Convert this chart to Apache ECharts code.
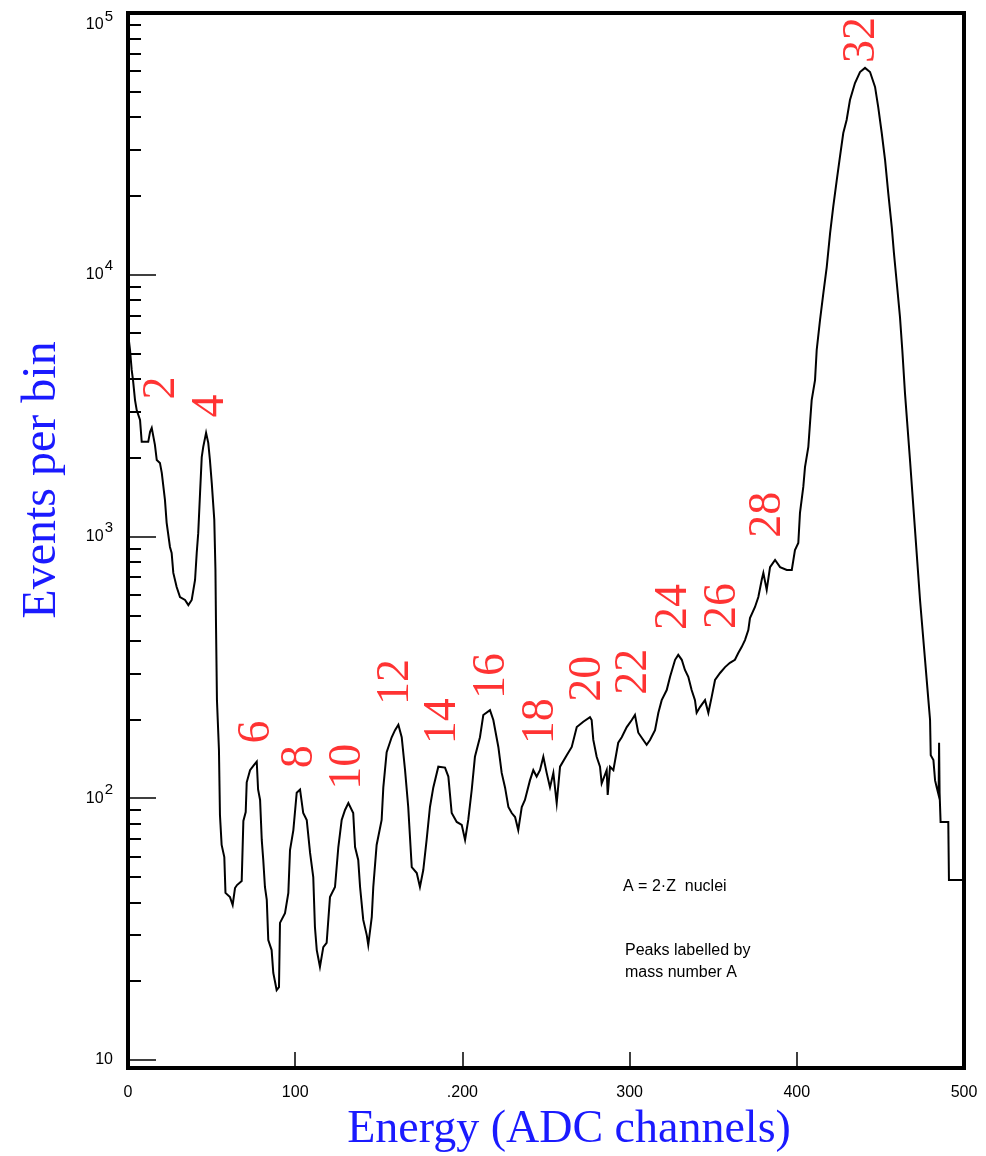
<!DOCTYPE html>
<html>
<head>
<meta charset="utf-8">
<title>Events per bin vs energy</title>
<script src="https://cdn.jsdelivr.net/npm/echarts@6/dist/echarts.min.js"></script>
<style>
  html, body { margin: 0; padding: 0; background: #ffffff; }
  #chart { width: 986px; height: 1156px; }
</style>
</head>
<body>
<div id="chart"></div>
<script>
// Energy spectrum: ADC channel vs events per bin
const channel = [
  0, 1.2, 2.2, 3.0, 4.2, 5.2, 7.2, 8.2, 12.1, 13.2, 14.2, 15.1, 16.1, 17.2, 19.1, 20.2,
  22.1, 23.1, 25.1, 26.1, 27.1, 29.1, 31.1, 34.1, 36.1, 38.1, 40.1, 41.1, 42.0, 43.1, 44.1,
  45.0, 46.7, 48.0, 49.0, 50.1, 51.6, 52.3, 52.6, 53.2, 54.4, 55.0, 56.0, 57.6, 58.3, 61.0,
  62.6, 64.0, 65.2, 68.0, 69.0, 70.4, 71.0, 73.0, 75.4, 77.0, 77.8, 79.0, 80.0, 80.9, 81.9,
  83.0, 83.9, 85.9, 86.9, 88.9, 90.3, 90.9, 93.9, 95.9, 96.9, 98.9, 100.9, 102.9, 103.9,
  104.8, 106.9, 108.9, 110.8, 111.8, 112.9, 114.8, 116.8, 118.8, 120.8, 123.8, 125.8, 127.8,
  129.8, 131.8, 134.7, 135.8, 137.7, 138.8, 140.7, 142.8, 143.7, 145.8, 146.7, 148.7, 151.7,
  152.7, 154.7, 157.7, 159.7, 161.7, 163.7, 165.7, 167.6, 169.7, 172.7, 174.6, 176.6, 178.6,
  180.6, 182.6, 185.6, 189.6, 191.6, 193.6, 196.6, 199.6, 201.6, 203.5, 205.6, 207.5, 210.5,
  212.5, 216.5, 218.5, 221.5, 223.5, 225.5, 227.5, 229.5, 231.5, 233.4, 235.5, 237.4, 240.4,
  242.4, 244.4, 246.4, 248.4, 250.4, 252.4, 254.4, 256.4, 258.4, 262.4, 265.4, 268.4, 272.3,
  276.3, 277.3, 278.3, 280.3, 282.3, 283.3, 286.3, 286.9, 288.3, 290.3, 293.2, 295.3, 298.3,
  301.3, 303.2, 305.2, 308.2, 310.2, 312.2, 315.2, 317.2, 319.2, 322.2, 324.2, 327.2, 329.1,
  331.2, 333.1, 335.1, 337.1, 339.1, 340.1, 342.1, 345.1, 347.1, 349.1, 351.1, 354.1, 357.1,
  360.0, 363.0, 365.0, 367.0, 369.0, 371.0, 372.0, 375.0, 377.0, 379.0, 380.0, 382.0, 384.0,
  387.0, 390.0, 394.0, 397.0, 398.9, 400.9, 401.9, 403.9, 404.9, 406.9, 407.9, 408.9, 410.9,
  411.9, 413.9, 415.9, 417.9, 419.9, 421.8, 423.9, 425.8, 427.8, 429.8, 431.8, 434.8, 437.8,
  440.8, 443.8, 446.8, 448.7, 450.8, 452.8, 454.7, 456.8, 458.1, 459.8, 461.7, 463.1, 464.7,
  467.7, 470.7, 473.7, 476.7, 478.7, 479.7, 480.1, 481.7, 482.7, 483.7, 484.8, 485.1, 485.4,
  486.0, 490.6, 491.0, 500
];
const counts = [
  6000, 5160, 4330, 3960, 3320, 3040, 2790, 2300, 2300, 2510, 2600, 2570, 2240, 1960, 1910, 1750,
  1380, 1130, 912, 865, 726, 641, 587, 572, 547, 572, 682, 865, 1030, 1470, 2010,
  2200, 2490, 2280, 1960, 1600, 1160, 745, 480, 237, 153, 86.3, 66.3, 59.6, 43.5, 41.9,
  39.1, 45.4, 46.6, 48.3, 81.9, 88.6, 115, 128, 134, 138, 108, 98.5, 69.3, 58.1, 45.8,
  40.9, 28.7, 26.3, 21.5, 18.5, 19.0, 33.4, 36.4, 43.5, 63.4, 75.6, 105, 108, 109,
  87.8, 82.6, 61.8, 50.0, 32.2, 26.3, 22.7, 27.0, 28.0, 41.9, 45.8, 65.1, 82.6,
  90.2, 95.9, 87.8, 65.1, 58.1, 45.8, 34.3, 30.0, 27.5, 35.2, 45.8, 66.3, 82.6,
  110, 150, 171, 182, 191, 171, 128, 92.6, 54.6, 51.8, 45.8, 53.2, 69.3,
  92.6, 110, 132, 131, 121, 87.8, 81.2, 79.1, 69.3, 82.6, 108, 144, 171,
  208, 217, 199, 157, 125, 110, 92.6, 87.8, 84.8, 75.6, 92.6, 98.5, 117,
  128, 121, 128, 144, 125, 110, 125, 95.9, 132, 146, 157, 187, 196,
  204, 199, 167, 144, 132, 114, 128, 103, 132, 128, 163, 171, 187,
  199, 208, 178, 167, 160, 167, 182, 212, 237, 259, 291, 338, 353,
  338, 309, 291, 259, 237, 212, 223, 237, 212, 244, 283, 301, 317,
  329, 338, 359, 378, 402, 439, 488, 538, 587, 682, 726, 625, 764,
  813, 764, 745, 745, 888, 944, 1230, 1550, 1840, 2200, 2710, 3320, 3960,
  5160, 6720, 8520, 10700, 14400, 18200, 23000, 28200, 34800, 39000, 46500, 54000, 59500,
  61700, 59500, 52200, 43700, 34800, 27400, 20500, 15200, 12100, 9300, 6900, 5160, 3530,
  1960, 1060, 572, 338, 237, 199, 146, 140, 117, 110, 103, 163, 105,
  81.2, 81.2, 48.7, 48.7
];

// Axis ticks and their labels
const xTickValues = [0, 100, 200, 300, 400, 500];
const xTickLabels = ['0', '100', '.200', '300', '400', '500'];
const yTickValues = [10, 100, 1000, 10000, 100000];
const yTickBase = ['10', '10', '10', '10', '10'];
const yTickExp = ['', '2', '3', '4', '5'];
const yMinorTicks = [
  20, 30, 40, 50, 60, 70, 80, 90,
  200, 300, 400, 500, 600, 700, 800, 900,
  2000, 3000, 4000, 5000, 6000, 7000, 8000, 9000,
  20000, 30000, 40000, 50000, 60000, 70000, 80000, 90000
];

// Mass-number labels placed over each peak (channel, level)
const peakNames = ['2', '4', '6', '8', '10', '12', '14', '16', '18', '20', '22', '24', '26', '28', '32'];
const peakLabelChannel = [20.3, 49.6, 77.2, 102.9, 131.6, 160.3, 188.4, 217.7, 247.0, 275.1, 302.6, 326.6, 355.9, 382.8, 439.0];
const peakLabelLevel = [3690, 3150, 179, 144, 132, 278, 197, 293, 197, 286, 304, 538, 543, 1210, 78900];

// Annotation text
const noteLines = ['A = 2\u00b7Z  nuclei', 'Peaks labelled by', 'mass number A'];
const xTitle = 'Energy (ADC channels)';
const yTitle = 'Events per bin';

const SERIF = "'Liberation Serif', 'DejaVu Serif', serif";
const SANS = "'Liberation Sans', Arial, 'DejaVu Sans', sans-serif";
const TITLE_BLUE = '#1a1aff';
const LABEL_RED = '#ff0000';

function yTickIndex(v) {
  return yTickValues.findIndex(t => Math.abs(Math.log10(t) - Math.log10(v)) < 1e-6);
}

const chart = echarts.init(document.getElementById('chart'), null, { renderer: 'canvas' });

const Y_MIN = 9.32;
const Y_MAX = 100000;

const option = {
  animation: false,
  backgroundColor: '#ffffff',
  grid: {
    left: 128, right: 22, top: 13, bottom: 88,
    show: true, borderColor: '#000', borderWidth: 4,
    containLabel: false,
    outerBoundsMode: 'none'
  },
  xAxis: {
    type: 'value',
    min: 0, max: 500, interval: 100,
    axisLine: { show: true, lineStyle: { color: '#000', width: 4 } },
    axisTick: { show: true, inside: true, length: 16, lineStyle: { color: '#000', width: 1.5 } },
    axisLabel: {
      margin: 17, color: '#000', fontFamily: SANS, fontSize: 16,
      formatter: v => {
        const i = xTickValues.indexOf(v);
        return i >= 0 ? xTickLabels[i] : '';
      }
    },
    splitLine: { show: false }
  },
  yAxis: [
    {
      type: 'log', logBase: 10, min: Y_MIN, max: Y_MAX, position: 'left',
      axisLine: { show: true, lineStyle: { color: '#000', width: 4 } },
      axisTick: { show: true, inside: true, length: 28, customValues: yTickValues,
        lineStyle: { color: '#000', width: 1.5 } },
      axisLabel: {
        show: true, margin: 15, customValues: yTickValues,
        formatter: v => {
          const i = yTickIndex(v);
          if (i < 0) return '';
          if (!yTickExp[i]) return '{b|' + yTickBase[i] + '}';
          if (i === yTickValues.length - 1) return '{bt|' + yTickBase[i] + '}{st|' + yTickExp[i] + '}';
          return '{b|' + yTickBase[i] + '}{s|' + yTickExp[i] + '}';
        },
        rich: {
          b: { fontFamily: SANS, fontSize: 16, lineHeight: 16, color: '#000' },
          s: { fontFamily: SANS, fontSize: 15, lineHeight: 16, color: '#000', padding: [0, 0, 17, 1] },
          bt: { fontFamily: SANS, fontSize: 16, lineHeight: 16, color: '#000', padding: [24, 0, 0, 0] },
          st: { fontFamily: SANS, fontSize: 15, lineHeight: 16, color: '#000', padding: [24, 0, 17, 1] }
        }
      },
      splitLine: { show: false }
    },
    {
      type: 'log', logBase: 10, min: Y_MIN, max: Y_MAX, position: 'left',
      axisLine: { show: false },
      axisTick: { show: true, inside: true, length: 13, customValues: yMinorTicks,
        lineStyle: { color: '#000', width: 2 } },
      axisLabel: { show: false },
      splitLine: { show: false }
    }
  ],
  series: [
    {
      name: 'spectrum',
      type: 'line',
      xAxisIndex: 0, yAxisIndex: 0,
      data: channel.map((c, i) => [c, counts[i]]),
      showSymbol: false,
      symbol: 'none',
      smooth: false,
      lineStyle: { color: '#000', width: 2, join: 'miter' },
      silent: true,
      z: 3
    },
    {
      name: 'peak labels',
      type: 'scatter',
      xAxisIndex: 0, yAxisIndex: 0,
      data: peakNames.map((n, i) => ({ name: n, value: [peakLabelChannel[i], peakLabelLevel[i]] })),
      symbolSize: 0,
      silent: true,
      label: {
        show: true, position: 'inside', rotate: 90,
        formatter: '{b}', color: LABEL_RED, fontFamily: SERIF, fontSize: 46,
        align: 'center', verticalAlign: 'middle'
      },
      z: 4
    }
  ],
  graphic: [
    {
      type: 'text', x: 42, y: 480, rotation: Math.PI / 2,
      style: {
        text: yTitle, fill: TITLE_BLUE, font: "48px 'Liberation Serif'",
        align: 'center', verticalAlign: 'middle', textAlign: 'center', textVerticalAlign: 'middle'
      }
    },
    {
      type: 'text', x: 569, y: 1130,
      style: {
        text: xTitle, fill: TITLE_BLUE, font: "46px 'Liberation Serif'",
        align: 'center', verticalAlign: 'middle', textAlign: 'center', textVerticalAlign: 'middle'
      }
    },
    {
      type: 'text', x: 623, y: 887,
      style: { text: noteLines[0], fill: '#000', font: "16px 'Liberation Sans'",
        align: 'left', verticalAlign: 'middle', textAlign: 'left', textVerticalAlign: 'middle' }
    },
    {
      type: 'text', x: 625, y: 951,
      style: { text: noteLines[1], fill: '#000', font: "16px 'Liberation Sans'",
        align: 'left', verticalAlign: 'middle', textAlign: 'left', textVerticalAlign: 'middle' }
    },
    {
      type: 'text', x: 625, y: 973,
      style: { text: noteLines[2], fill: '#000', font: "16px 'Liberation Sans'",
        align: 'left', verticalAlign: 'middle', textAlign: 'left', textVerticalAlign: 'middle' }
    }
  ]
};

chart.setOption(option);
</script>
</body>
</html>
